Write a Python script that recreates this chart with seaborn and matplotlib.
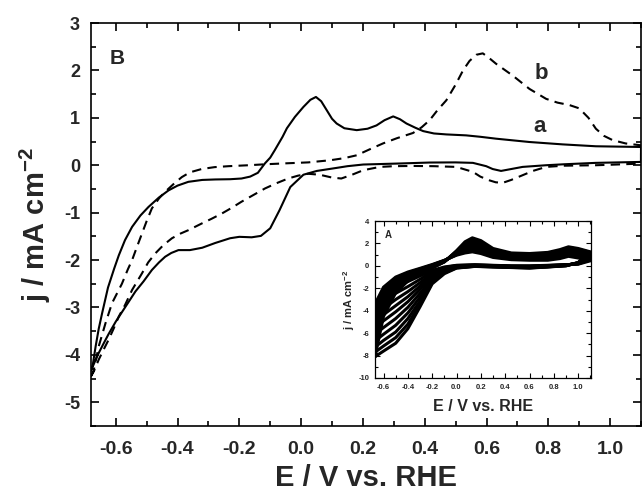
import numpy as np
import pandas as pd
import matplotlib
matplotlib.use("Agg")
import matplotlib.pyplot as plt
import seaborn as sns
from matplotlib.ticker import MultipleLocator

sns.set_theme(style="ticks")
plt.rcParams['font.family'] = ['Liberation Sans', 'DejaVu Sans']
plt.rcParams['font.weight'] = 'bold'
plt.rcParams['axes.unicode_minus'] = False
plt.rcParams['mathtext.fontset'] = 'custom'
plt.rcParams['mathtext.rm'] = 'Liberation Sans:bold'
plt.rcParams['mathtext.bf'] = 'Liberation Sans:bold'
plt.rcParams['mathtext.default'] = 'bf'

# ---------------- main panel (B) data ----------------
# curve a (solid): anodic sweep then cathodic sweep
a_fwd_E = [-0.68, -0.674, -0.665, -0.655, -0.644, -0.625, -0.605, -0.59, -0.57, -0.547, -0.52,
           -0.494, -0.46, -0.429, -0.40, -0.365, -0.32, -0.278, -0.23, -0.193, -0.165,
           -0.14, -0.117, -0.10, -0.085, -0.06, -0.046, -0.02, 0.0075, 0.03, 0.048,
           0.065, 0.083, 0.10, 0.115, 0.14, 0.18, 0.215, 0.244, 0.27, 0.298,
           0.32, 0.341, 0.37, 0.395, 0.43, 0.47, 0.534, 0.58, 0.631, 0.739,
           0.846, 0.954, 1.1]
a_fwd_j = [-4.33, -4.2, -3.82, -3.45, -3.12, -2.58, -2.18, -1.90, -1.58, -1.30, -1.06,
           -0.88, -0.68, -0.53, -0.43, -0.35, -0.31, -0.30, -0.295, -0.28, -0.24,
           -0.16, 0.04, 0.16, 0.32, 0.60, 0.78, 1.02, 1.23, 1.38, 1.44,
           1.35, 1.16, 0.98, 0.88, 0.78, 0.74, 0.77, 0.84, 0.95, 1.03,
           0.97, 0.88, 0.79, 0.72, 0.67, 0.65, 0.63, 0.60, 0.56, 0.49,
           0.44, 0.40, 0.385]
a_rev_E = [1.1, 0.954, 0.85, 0.793, 0.717, 0.68, 0.647, 0.62, 0.599, 0.556,
           0.5, 0.416, 0.309, 0.201, 0.15, 0.115, 0.051, 0.0075, -0.035, -0.07,
           -0.10, -0.13, -0.16, -0.20, -0.23, -0.278, -0.32, -0.36, -0.397, -0.42,
           -0.44, -0.46, -0.483, -0.51, -0.536, -0.56, -0.58, -0.60, -0.623, -0.64,
           -0.655, -0.668, -0.68]
a_rev_j = [0.07, 0.05, 0.02, 0.0, -0.035, -0.08, -0.12, -0.08, -0.02, 0.05,
           0.06, 0.057, 0.035, 0.015, -0.02, -0.056, -0.12, -0.20, -0.46, -0.95,
           -1.33, -1.49, -1.52, -1.51, -1.54, -1.64, -1.74, -1.79, -1.79, -1.85,
           -1.93, -2.05, -2.21, -2.45, -2.66, -2.90, -3.10, -3.30, -3.56, -3.77,
           -3.96, -4.15, -4.33]

# curve b (dashed)
b_fwd_E = [-0.68, -0.671, -0.655, -0.633, -0.612, -0.58, -0.561, -0.547, -0.53, -0.515,
           -0.50, -0.483, -0.46, -0.44, -0.41, -0.386, -0.36, -0.322, -0.28, -0.235,
           -0.17, -0.117, -0.05, 0.023, 0.094, 0.14, 0.18, 0.22, 0.265, 0.31,
           0.362, 0.39, 0.416, 0.44, 0.47, 0.50, 0.524, 0.545, 0.567, 0.588,
           0.605, 0.631, 0.685, 0.739, 0.793, 0.83, 0.868, 0.90, 0.93, 0.954,
           0.98, 1.008, 1.05, 1.1]
b_fwd_j = [-4.45, -4.32, -3.82, -3.33, -2.91, -2.50, -2.20, -2.00, -1.70, -1.44,
           -1.18, -0.91, -0.70, -0.56, -0.38, -0.25, -0.15, -0.08, -0.04, -0.02,
           0.0, 0.02, 0.04, 0.06, 0.105, 0.15, 0.21, 0.33, 0.46, 0.57,
           0.68, 0.80, 0.95, 1.15, 1.37, 1.70, 2.00, 2.20, 2.33, 2.36,
           2.28, 2.14, 1.89, 1.61, 1.40, 1.32, 1.27, 1.20, 1.00, 0.77,
           0.62, 0.53, 0.46, 0.42]
b_rev_E = [1.1, 1.0, 0.954, 0.85, 0.793, 0.75, 0.717, 0.68, 0.653, 0.63,
           0.61, 0.58, 0.556, 0.502, 0.43, 0.362, 0.30, 0.255, 0.201, 0.165,
           0.13, 0.10, 0.06, 0.023, -0.01, -0.042, -0.08, -0.117, -0.155, -0.193,
           -0.225, -0.257, -0.29, -0.322, -0.365, -0.39, -0.418, -0.445, -0.472, -0.495,
           -0.515, -0.547, -0.57, -0.59, -0.607, -0.623, -0.64, -0.655, -0.671, -0.68]
b_rev_j = [0.035, 0.01, 0.0, -0.01, -0.035, -0.12, -0.21, -0.31, -0.37, -0.36,
           -0.32, -0.24, -0.14, -0.035, -0.02, -0.015, -0.02, -0.035, -0.105, -0.20,
           -0.28, -0.26, -0.20, -0.18, -0.22, -0.28, -0.38, -0.49, -0.63, -0.77,
           -0.90, -1.02, -1.13, -1.23, -1.37, -1.44, -1.54, -1.68, -1.86, -2.05,
           -2.28, -2.63, -2.95, -3.19, -3.45, -3.68, -3.90, -4.10, -4.35, -4.45]

# ---------------- inset (A) data: successive cycles ----------------
inset_cath_E = [1.1, 1.0, 0.9, 0.75, 0.6, 0.45, 0.3, 0.15, 0.0, -0.1, -0.2, -0.3, -0.4, -0.5, -0.6, -0.67]
inset_anod_E = [-0.67, -0.6, -0.5, -0.4, -0.3, -0.2, -0.1, 0.0, 0.07, 0.13, 0.2, 0.3, 0.45, 0.6, 0.75, 0.85, 0.92, 1.0, 1.1]
inset_cath_j = [
    [0.45, 0.15, 0.10, 0.05, 0.00, 0.00, 0.05, 0.10, 0.05, -0.10, -0.40, -0.90, -1.40, -1.90, -2.60, -3.40],
    [0.55, 0.17, 0.10, 0.03, -0.02, -0.02, 0.03, 0.08, 0.03, -0.15, -0.50, -1.20, -1.85, -2.45, -3.20, -3.90],
    [0.65, 0.19, 0.09, 0.02, -0.05, -0.03, 0.02, 0.06, 0.00, -0.20, -0.65, -1.50, -2.30, -3.00, -3.80, -4.45],
    [0.75, 0.21, 0.08, 0.00, -0.08, -0.05, 0.00, 0.04, -0.03, -0.25, -0.80, -1.80, -2.75, -3.55, -4.35, -5.00],
    [0.85, 0.23, 0.07, -0.02, -0.10, -0.07, -0.02, 0.02, -0.06, -0.32, -0.95, -2.10, -3.20, -4.10, -4.90, -5.55],
    [0.95, 0.25, 0.05, -0.04, -0.12, -0.09, -0.04, 0.00, -0.09, -0.40, -1.10, -2.45, -3.70, -4.70, -5.50, -6.10],
    [1.05, 0.27, 0.04, -0.06, -0.14, -0.11, -0.06, -0.02, -0.12, -0.48, -1.25, -2.80, -4.20, -5.30, -6.10, -6.70],
    [1.12, 0.28, 0.03, -0.08, -0.16, -0.12, -0.07, -0.03, -0.15, -0.55, -1.40, -3.15, -4.70, -5.90, -6.65, -7.25],
    [1.20, 0.29, 0.01, -0.09, -0.18, -0.14, -0.09, -0.04, -0.18, -0.62, -1.50, -3.40, -5.20, -6.40, -7.15, -7.70],
    [1.25, 0.30, 0.00, -0.10, -0.20, -0.15, -0.10, -0.05, -0.20, -0.70, -1.60, -3.65, -5.60, -6.90, -7.60, -8.10],
]
inset_anod_j = [
    [-3.40, -1.90, -1.00, -0.55, -0.22, 0.12, 0.50, 0.95, 1.15, 1.25, 1.10, 0.75, 0.55, 0.50, 0.50, 0.65, 0.85, 0.70, 0.45],
    [-3.90, -2.20, -1.15, -0.62, -0.28, 0.08, 0.48, 0.99, 1.26, 1.39, 1.23, 0.84, 0.62, 0.57, 0.58, 0.74, 0.95, 0.80, 0.55],
    [-4.45, -2.50, -1.30, -0.70, -0.33, 0.05, 0.46, 1.04, 1.37, 1.53, 1.36, 0.93, 0.69, 0.63, 0.66, 0.83, 1.05, 0.90, 0.65],
    [-5.00, -2.80, -1.45, -0.77, -0.38, 0.02, 0.44, 1.08, 1.48, 1.67, 1.48, 1.01, 0.75, 0.70, 0.73, 0.91, 1.15, 1.00, 0.75],
    [-5.55, -3.05, -1.60, -0.85, -0.44, -0.02, 0.42, 1.12, 1.59, 1.81, 1.61, 1.10, 0.82, 0.77, 0.81, 1.00, 1.25, 1.10, 0.85],
    [-6.10, -3.30, -1.75, -0.95, -0.50, -0.06, 0.41, 1.17, 1.71, 1.95, 1.74, 1.19, 0.88, 0.84, 0.89, 1.09, 1.35, 1.20, 0.95],
    [-6.70, -3.60, -1.90, -1.05, -0.55, -0.10, 0.39, 1.21, 1.82, 2.09, 1.87, 1.28, 0.95, 0.90, 0.97, 1.18, 1.45, 1.30, 1.05],
    [-7.25, -3.90, -2.05, -1.15, -0.60, -0.13, 0.38, 1.26, 1.93, 2.22, 1.99, 1.37, 1.02, 0.97, 1.05, 1.27, 1.55, 1.40, 1.12],
    [-7.70, -4.20, -2.20, -1.25, -0.65, -0.17, 0.36, 1.30, 2.04, 2.36, 2.12, 1.46, 1.08, 1.03, 1.12, 1.36, 1.63, 1.48, 1.20],
    [-8.10, -4.50, -2.40, -1.35, -0.70, -0.20, 0.35, 1.35, 2.15, 2.50, 2.25, 1.55, 1.15, 1.10, 1.20, 1.45, 1.70, 1.55, 1.25],
]

# ---------------- figure ----------------
W, H = 643, 496
fig = plt.figure(figsize=(W / 100, H / 100), dpi=100)
ax = fig.add_axes([91 / W, 1 - 426 / H, (641 - 91) / W, (426 - 23) / H])

df_a = pd.DataFrame({'E': a_fwd_E + a_rev_E, 'j': a_fwd_j + a_rev_j})
df_b = pd.DataFrame({'E': b_fwd_E + b_rev_E, 'j': b_fwd_j + b_rev_j})
sns.lineplot(data=df_a, x='E', y='j', sort=False, estimator=None, color='black',
             lw=1.5, ax=ax)
sns.lineplot(data=df_b, x='E', y='j', sort=False, estimator=None, color='black',
             lw=1.5, linestyle=(0, (4.5, 3)), ax=ax)

ax.set_xlim(-0.68, 1.1)
ax.set_ylim(-5.5, 3)
ax.xaxis.set_major_locator(MultipleLocator(0.2))
ax.xaxis.set_minor_locator(MultipleLocator(0.1))
ax.yaxis.set_major_locator(MultipleLocator(1))
ax.yaxis.set_minor_locator(MultipleLocator(0.5))
ax.set_xticks(np.arange(-0.6, 1.01, 0.2))
ax.set_xticklabels(['-0.6', '-0.4', '-0.2', '0.0', '0.2', '0.4', '0.6', '0.8', '1.0'])
ax.tick_params(which='both', direction='in', top=True, right=True, width=1.2, color='black')
ax.tick_params(which='major', length=6)
ax.tick_params(which='minor', length=3.5)
ax.tick_params(axis='x', which='major', pad=11, labelsize=14)
ax.tick_params(axis='y', which='major', pad=8, labelsize=13)
for lab in ax.get_xticklabels() + ax.get_yticklabels():
    lab.set_fontweight('bold')
for sp in ax.spines.values():
    sp.set_linewidth(1.2)
    sp.set_color('black')
ax.set_xlabel('E / V vs. RHE', fontsize=21, fontweight='bold', labelpad=4)
ax.set_ylabel('j / mA cm$^{-2}$', fontsize=21, fontweight='bold', labelpad=8)

ax.text(-0.594, 2.26, 'B', fontsize=15, fontweight='bold', ha='center', va='center')
ax.text(0.776, 1.93, 'b', fontsize=16, fontweight='bold', ha='center', va='center')
ax.text(0.771, 0.81, 'a', fontsize=16, fontweight='bold', ha='center', va='center')

# ---------------- inset ----------------
ax2 = fig.add_axes([375 / W, 1 - 378 / H, (591 - 375) / W, (378 - 221) / H])
rows = []
for k in range(len(inset_cath_j)):
    for e, v in zip(inset_anod_E, inset_anod_j[k]):
        rows.append((k, e, v))
    for e, v in zip(inset_cath_E, inset_cath_j[k]):
        rows.append((k, e, v))
df_in = pd.DataFrame(rows, columns=['cycle', 'E', 'j'])
sns.lineplot(data=df_in, x='E', y='j', units='cycle', estimator=None, sort=False,
             color='black', lw=2.2, ax=ax2)
ax2.set_xlim(-0.67, 1.105)
ax2.set_ylim(-10, 4)
ax2.set_xticks(np.arange(-0.6, 1.01, 0.2))
ax2.set_xticklabels(['-0.6', '-0.4', '-0.2', '0.0', '0.2', '0.4', '0.6', '0.8', '1.0'])
ax2.xaxis.set_minor_locator(MultipleLocator(0.1))
ax2.yaxis.set_major_locator(MultipleLocator(2))
ax2.yaxis.set_minor_locator(MultipleLocator(1))
ax2.tick_params(which='both', direction='in', top=True, right=True, width=0.8,
                color='black', labelsize=5.5, pad=4)
ax2.tick_params(which='major', length=3.5)
ax2.tick_params(which='minor', length=2)
for lab in ax2.get_xticklabels() + ax2.get_yticklabels():
    lab.set_fontweight('bold')
for sp in ax2.spines.values():
    sp.set_linewidth(0.9)
    sp.set_color('black')
ax2.set_xlabel('E / V vs. RHE', fontsize=11.5, fontweight='bold', labelpad=6)
ax2.set_ylabel('j / mA cm$^{-2}$', fontsize=8, fontweight='bold', labelpad=1)
ax2.text(-0.56, 2.75, 'A', fontsize=7, fontweight='bold', ha='center', va='center')

fig.savefig('out.png', dpi=100)
